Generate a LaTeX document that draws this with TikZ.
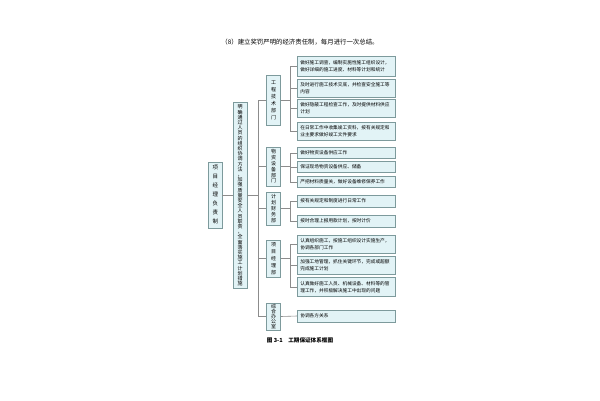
\documentclass[tikz,border=0pt]{standalone}
\usepackage{fontspec}
\setmainfont{Noto Sans CJK SC}
\usepackage{tikz}

\definecolor{boxfill}{HTML}{E2F3F6}
\definecolor{boxline}{HTML}{7D9A9C}
\definecolor{linkgray}{HTML}{8C8C8C}

% one character per line, for the upright boxes
\def\vchars#1{\vcharsfirst#1\relax}
\def\vcharsfirst#1{#1\vcharsrest}
\def\vcharsrest#1{\ifx\relax#1\else\\#1\expandafter\vcharsrest\fi}

\begin{document}
\begin{tikzpicture}[x=1pt,y=-1pt,
  upbox/.style={draw=boxline,fill=boxfill,line width=0.6pt,align=center,
    text width=5pt,inner xsep=4.5pt,inner ysep=0pt},
  leaf/.style={draw=boxline,fill=boxfill,line width=0.6pt,anchor=west,align=left,
    text width=92pt,inner xsep=3pt,inner ysep=0pt,font=\fontsize{4.7}{7.2}\selectfont},
  link/.style={draw=linkgray,line width=0.6pt}]

\useasboundingbox (0,0) rectangle (600,400);

%\draw [help lines,step=50] (0,0) grid (600,400);

\node (title) [font=\fontsize{6.4}{8}\selectfont] at (300,42) {（8）建立奖罚严明的经济责任制，每月进行一次总结。};

% left boxes
\node (root) [upbox,minimum height=66pt,font=\fontsize{5.5}{9}\selectfont] at (215,195) {\vchars{项目经理负责制}};
\node (mid) [upbox,minimum height=186pt,font=\fontsize{5}{5.2}\selectfont] at (240,195.5) {\vchars{明确通过人员的组织协调方法，加强质量安全人员职责，全面落实施工计划措施}};

% departments
\node (tech) [upbox,minimum height=50pt,font=\fontsize{5}{7}\selectfont] at (273.5,100) {\vchars{工程技术部门}};
\node (supply) [upbox,minimum height=39pt,font=\fontsize{5}{5.8}\selectfont] at (273.5,166.5) {\vchars{物资设备部门}};
\node (finance) [upbox,minimum height=33pt,font=\fontsize{5}{6}\selectfont] at (273.5,208.5) {\vchars{计划财务部}};
\node (office) [upbox,minimum height=37pt,font=\fontsize{5}{7}\selectfont] at (273.5,258.5) {\vchars{项目经理部}};
\node (general) [upbox,minimum height=27pt,font=\fontsize{5}{5.2}\selectfont] at (273.5,316.5) {\vchars{综合办公室}};

% tasks
\node (t1) [leaf,minimum height=20pt] at (297,66) {做好施工调查，编制实施性施工组织设计，\\做好详细的施工进度、材料等计划和统计};
\node (t2) [leaf,minimum height=18pt] at (297,88) {及时进行施工技术交底，并检查安全施工等\\内容};
\node (t3) [leaf,minimum height=18pt] at (297,108) {做好隐蔽工程检查工作，及时提供材料供应\\计划};
\node (t4) [leaf,minimum height=18pt] at (297,131) {在日常工作中收集竣工资料，按有关规定和\\业主要求做好竣工文件要求};

\node (s1) [leaf,minimum height=11pt] at (297,153) {做好物资设备供应工作};
\node (s2) [leaf,minimum height=11pt] at (297,167) {保证现场物资设备供应、储备};
\node (s3) [leaf,minimum height=11pt] at (297,182) {严把材料质量关，做好设备维修保养工作};

\node (f1) [leaf,minimum height=12pt] at (297,201) {按有关规定和制度进行日常工作};
\node (f2) [leaf,minimum height=12pt] at (297,221) {按时合理上报用款计划，按时计价};

\node (o1) [leaf,minimum height=18pt] at (297,244) {认真组织施工，按施工组织设计实施生产，\\协调各部门工作};
\node (o2) [leaf,minimum height=18pt] at (297,265) {加强工地管理，抓住关键环节，完成或超额\\完成施工计划};
\node (o3) [leaf,minimum height=19pt] at (297,287) {认真做好施工人员、机械设备、材料等的管\\理工作，并积极解决施工中出现的问题};

\node (g1) [leaf,minimum height=12pt] at (297,316) {协调各方关系};

\node (caption) [font=\fontsize{5.6}{7}\selectfont\bfseries] at (300,340) {图 3-1\quad 工期保证体系框图};

% connectors
\coordinate (bus) at (258,0);
\coordinate (sub) at (290,0);

\draw [link] (root.east) -- (root.east -| mid.west);
\draw [link] (mid.east) -- (mid.east -| bus);
\draw [link] (tech.west -| bus) -- (general.west -| bus);
\foreach \d in {tech,supply,finance,office,general}
  \draw [link] (\d.west -| bus) -- (\d.west);

% for tech
\draw [link] (tech.east) -- (tech.east -| sub);
\draw [link] (t1.west -| sub) -- (t4.west -| sub);
\foreach \t in {t1,t2,t3,t4}
  \draw [link] (\t.west -| sub) -- (\t.west);

% for supply
\draw [link] (supply.east) -- (supply.east -| sub);
\draw [link] (s1.west -| sub) -- (s3.west -| sub);
\foreach \t in {s1,s2,s3}
  \draw [link] (\t.west -| sub) -- (\t.west);

% for finance
\draw [link] (finance.east) -- (finance.east -| sub);
\draw [link] (f1.west -| sub) -- (f2.west -| sub);
\foreach \t in {f1,f2}
  \draw [link] (\t.west -| sub) -- (\t.west);

% for office
\draw [link] (office.east) -- (office.east -| sub);
\draw [link] (o1.west -| sub) -- (o3.west -| sub);
\foreach \t in {o1,o2,o3}
  \draw [link] (\t.west -| sub) -- (\t.west);

% for general
\draw [link] (general.east) -- (g1.west);

\end{tikzpicture}
\end{document}
